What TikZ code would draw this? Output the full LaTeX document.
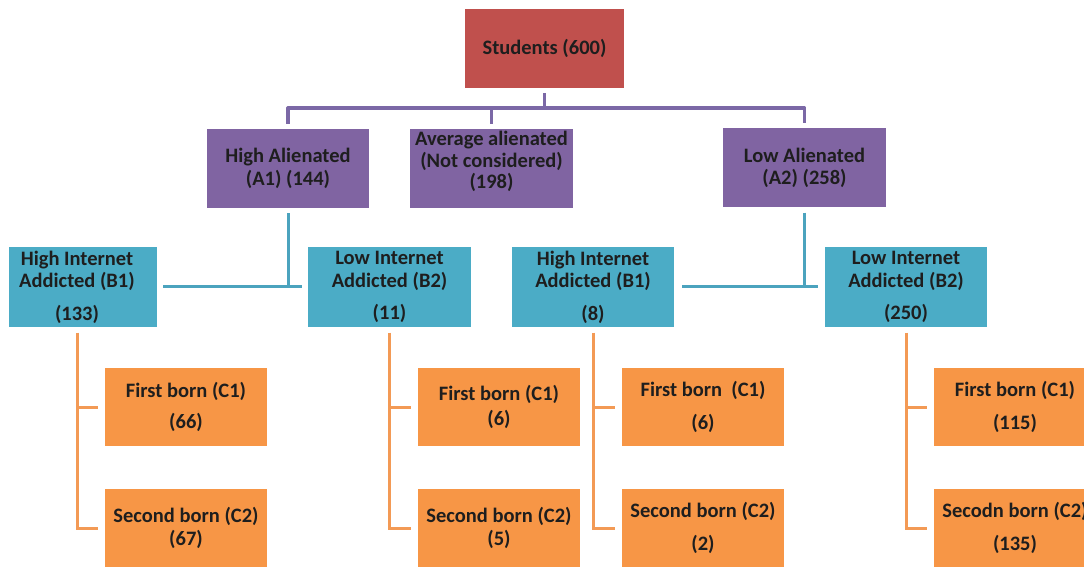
\documentclass[tikz,border=0pt]{standalone}
\usepackage{fontspec}
\setmainfont{Carlito}
\definecolor{redf}{HTML}{C0504D}
\definecolor{purf}{HTML}{8064A2}
\definecolor{tealf}{HTML}{4BACC6}
\definecolor{orf}{HTML}{F79646}
\definecolor{purl}{HTML}{7B68A6}
\definecolor{teall}{HTML}{4BA3BE}
\definecolor{orl}{HTML}{F39A55}
\definecolor{txt}{HTML}{1E1E1E}
\tikzset{
  boxtext/.style={text=txt, font=\fontsize{20.5}{22.5}\selectfont\bfseries, align=center, inner sep=0pt},
  box/.style={boxtext, rectangle, draw=none, minimum height=79pt},
  stubox/.style={box, fill=redf, minimum width=159pt},
  abox/.style={box, fill=purf, minimum width=162pt},
  bbox/.style={box, fill=tealf, minimum width=162pt},
  cbox/.style={box, fill=orf, minimum width=162pt, minimum height=78pt},
  pline/.style={draw=purl, line width=3.2pt, line join=round},
  tline/.style={draw=teall, line width=3pt},
  oline/.style={draw=orl, line width=3pt},
}
\begin{document}
\begin{tikzpicture}[x=1pt,y=-1pt]
\useasboundingbox (0,0) rectangle (1084,577);
% level 0
\node[stubox] (stu) at (544.5,48.5) {Students (600)};
% level A
\node[abox] (a1) at (288,168.5) {High Alienated\\(A1) (144)};
\node[abox, minimum width=163pt, label={[name=avt, boxtext, yshift=7pt]center:{Average alienated\\[-1pt](Not considered)\\[-1pt](198)}}] (av) at (491.5,168.5) {};
\node[abox, minimum width=163pt] (a2) at (804.5,168) {Low Alienated\\(A2) (258)};
% level B
\node[bbox, minimum width=148pt, label={[name=b1lt, boxtext, xshift=-6pt]center:{High Internet\\Addicted (B1)\\[10pt](133)}}] (b1l) at (83,287) {};
\node[bbox, minimum width=163pt] (b2l) at (389.5,287) {Low Internet\\Addicted (B2)\\[10pt](11)};
\node[bbox] (b1m) at (593,287) {High Internet\\Addicted (B1)\\[10pt](8)};
\node[bbox] (b2r) at (906,287) {Low Internet\\Addicted (B2)\\[10pt](250)};
% level C
\node[cbox] (c1a) at (186,407) {First born (C1)\\[8.5pt](66)};
\node[cbox] (c2a) at (186,528) {Second born (C2)\\(67)};
\node[cbox] (c1b) at (499,407) {First born (C1)\\[2.5pt](6)};
\node[cbox] (c2b) at (499,528) {Second born (C2)\\(5)};
\node[cbox] (c1c) at (703,407) {First born\ \ (C1)\\[10pt](6)};
\node[cbox] (c2c) at (703,528) {Second born (C2)\\[10pt](2)};
\node[cbox] (c1d) at (1015,407) {First born (C1)\\[10pt](115)};
\node[cbox] (c2d) at (1015,528) {Secodn born (C2)\\[10pt](135)};
% purple connectors
\coordinate (hp) at (0,108);
\draw[pline] ([yshift=5pt]a1.north) |- (hp -| a2.north) -- ([yshift=5pt]a2.north);
\draw[pline] ([yshift=-5pt]stu.south) -- (stu.south |- hp);
\draw[pline] ([yshift=5pt]av.north) -- (av.north |- hp);
% teal connectors
\draw[tline] ([yshift=-5pt]a1.south) -- (a1.south |- b1l.east);
\draw[tline] ([xshift=6pt]b1l.east) -- ([xshift=-6pt]b2l.west);
\draw[tline] ([yshift=-5pt]a2.south) -- (a2.south |- b2r.west);
\draw[tline] ([xshift=8pt]b1m.east) -- ([xshift=-7pt]b2r.west);
% orange connectors
\draw[oline] ([yshift=-6pt]b1lt.center |- b1l.south) |- ([xshift=-7pt]c2a.west);
\draw[oline] (b1lt.center |- c1a.west) -- ([xshift=-7pt]c1a.west);
\draw[oline] ([yshift=-6pt]b2l.south) |- ([xshift=-7pt]c2b.west);
\draw[oline] (b2l.south |- c1b.west) -- ([xshift=-7pt]c1b.west);
\draw[oline] ([yshift=-6pt]b1m.south) |- ([xshift=-7pt]c2c.west);
\draw[oline] (b1m.south |- c1c.west) -- ([xshift=-7pt]c1c.west);
\draw[oline] ([yshift=-6pt]b2r.south) |- ([xshift=-7pt]c2d.west);
\draw[oline] (b2r.south |- c1d.west) -- ([xshift=-7pt]c1d.west);
\end{tikzpicture}
\end{document}
